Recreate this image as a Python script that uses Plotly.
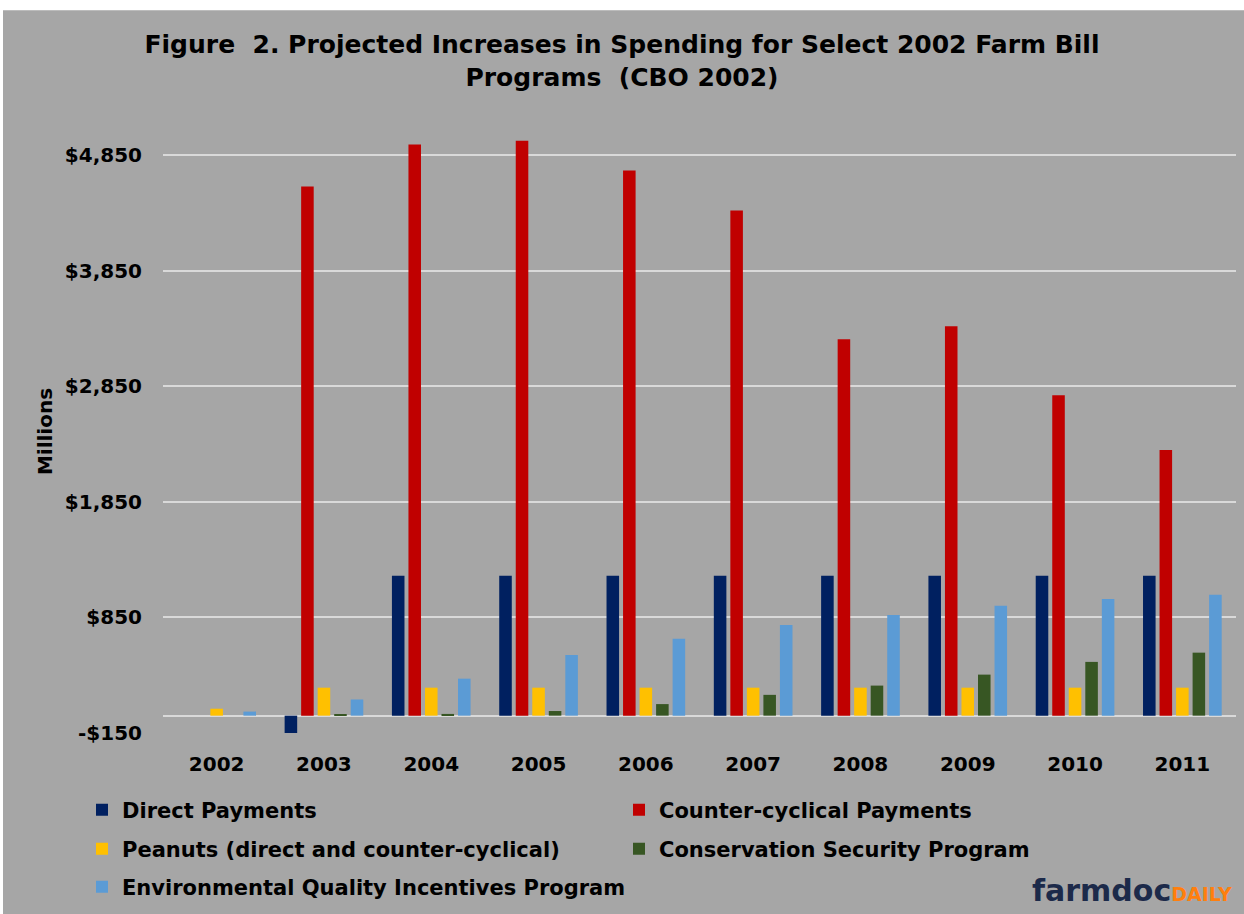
import plotly.graph_objects as go

years = ["2002", "2003", "2004", "2005", "2006", "2007", "2008", "2009", "2010", "2011"]
direct_payments = [0, -150, 1210, 1210, 1210, 1210, 1210, 1210, 1210, 1210]
counter_cyclical = [0, 4577, 4940, 4974, 4715, 4370, 3256, 3368, 2772, 2297]
peanuts = [60, 242, 242, 242, 242, 242, 242, 242, 242, 242]
csp = [0, 10, 15, 40, 100, 180, 260, 355, 465, 545]
eqip = [35, 140, 320, 525, 665, 785, 870, 950, 1010, 1045]

tick_vals = [-150, 850, 1850, 2850, 3850, 4850]
tick_text = ["-$150", "$850", "$1,850", "$2,850", "$3,850", "$4,850"]

# name, values, colour, legend row
series = [
    ("Direct Payments", direct_payments, "#002060", "legend"),
    ("Counter-cyclical Payments", counter_cyclical, "#c00000", "legend"),
    ("Peanuts (direct and counter-cyclical)", peanuts, "#ffc000", "legend2"),
    ("Conservation Security Program", csp, "#375623", "legend2"),
    ("Environmental Quality Incentives Program", eqip, "#5b9bd5", "legend3"),
]

FONT = "DejaVu Sans"

fig = go.Figure()
for name, vals, color, leg in series:
    fig.add_trace(go.Bar(x=years, y=vals, name=name, legend=leg,
                         marker=dict(color=color, line=dict(width=0))))

W, H = 1244, 914
L, R, T, B = 163, 8, 130, 180
ph = H - T - B
pw = W - L - R


def legend_row(ypx, two_cols=True):
    d = dict(
        orientation="h",
        x=(82 - L) / pw, xanchor="left",
        y=(H - B - ypx) / ph, yanchor="middle",
        font=dict(family=FONT, size=21, color="black", weight="bold"),
        bgcolor="rgba(0,0,0,0)",
        traceorder="normal",
    )
    if two_cols:
        d.update(entrywidth=492, entrywidthmode="pixels")
    return d


fig.update_layout(
    width=W, height=H,
    margin=dict(l=L, r=R, t=T, b=B),
    paper_bgcolor="#a6a6a6",
    plot_bgcolor="#a6a6a6",
    barmode="group",
    bargap=0.23,
    bargroupgap=0.24,
    title=dict(
        text="Figure  2. Projected Increases in Spending for Select 2002 Farm Bill<br>Programs  (CBO 2002)",
        x=0.5, xref="container", xanchor="center",
        y=1 - 53 / H, yref="container", yanchor="middle",
        font=dict(family=FONT, size=25, color="black", weight="bold"),
    ),
    xaxis=dict(
        showgrid=False, zeroline=False, showline=False,
        tickfont=dict(family=FONT, size=20, color="black", weight="bold"),
        ticks="", ticklabelstandoff=17,
    ),
    yaxis=dict(
        range=[-150, 5066],
        tickvals=tick_vals, ticktext=tick_text,
        showgrid=True, gridcolor="#d9d9d9", gridwidth=2,
        zeroline=True, zerolinecolor="#d9d9d9", zerolinewidth=2,
        showline=False, ticks="",
        tickfont=dict(family=FONT, size=20, color="black", weight="bold"),
        ticklabelstandoff=20,
        title=dict(text="Millions", standoff=6,
                   font=dict(family=FONT, size=20, color="black", weight="bold")),
    ),
    legend=legend_row(810),
    legend2=legend_row(849),
    legend3=legend_row(887, two_cols=False),
    showlegend=True,
)

# white frame edges of the original image
fig.add_shape(type="rect", xref="paper", yref="paper",
              x0=-0.3, x1=1.1, y0=1 + (T - 10) / ph, y1=1 + (T + 20) / ph,
              fillcolor="white", line=dict(width=0), layer="below")
fig.add_shape(type="rect", xref="paper", yref="paper",
              x0=-0.3, x1=(3 - L) / pw, y0=-0.5, y1=1.3,
              fillcolor="white", line=dict(width=0), layer="below")

fig.add_annotation(
    text="<span style='color:#1c2a4a;font-size:30px'>farmdoc</span><span style='color:#ff7f0e;font-size:19px'>DAILY</span>",
    xref="paper", yref="paper",
    x=(1030 - L) / pw, xanchor="left",
    y=-(892 - (H - B)) / ph, yanchor="middle",
    showarrow=False,
    font=dict(family="DejaVu Sans", size=30, weight="bold"),
)

fig.write_html("out.html")
